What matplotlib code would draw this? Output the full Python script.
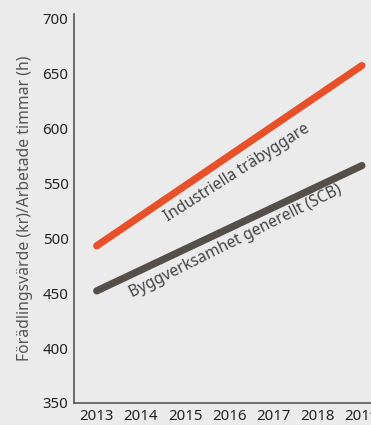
import matplotlib
matplotlib.use("Agg")
import matplotlib.pyplot as plt

# data
years = [2013, 2019]
industriella = [493, 657]
bygg = [452, 566]
year_ticks = [2013, 2014, 2015, 2016, 2017, 2018, 2019]
value_ticks = [350, 400, 450, 500, 550, 600, 650, 700]

plt.rcParams["font.family"] = ["Noto Sans", "DejaVu Sans"]

bg = "#ebebeb"
fig = plt.figure(figsize=(3.71, 4.25), dpi=100, facecolor=bg)
ax = fig.add_axes([0.1995, 0.0518, 0.8005, 0.9155], facecolor=bg)

ax.plot(years, industriella, color="#e8502a", lw=5.2, solid_capstyle="round")
ax.plot(years, bygg, color="#544f48", lw=5.2, solid_capstyle="round")

ax.text(2016.17, 559, "Industriella träbyggare", rotation=32.5, rotation_mode="anchor",
        ha="center", va="center", fontsize=11.2, color="#444444")
ax.text(2016.15, 497, "Byggverksamhet generellt (SCB)", rotation=26.5, rotation_mode="anchor",
        ha="center", va="center", fontsize=11.2, color="#444444")

ax.set_xlim(2012.486, 2019.206)
ax.set_ylim(350, 704)
ax.set_xticks(year_ticks)
ax.set_yticks(value_ticks)
ax.tick_params(length=0, labelsize=10.8, colors="#222222", pad=4)
ax.set_ylabel("Förädlingsvärde (kr)/Arbetade timmar (h)", fontsize=11.3, color="#555555", labelpad=7)

for s in ["top", "right"]:
    ax.spines[s].set_visible(False)
for s in ["left", "bottom"]:
    ax.spines[s].set_color("#555555")
    ax.spines[s].set_linewidth(1.2)

fig.savefig("out.png", dpi=100, facecolor=bg)
